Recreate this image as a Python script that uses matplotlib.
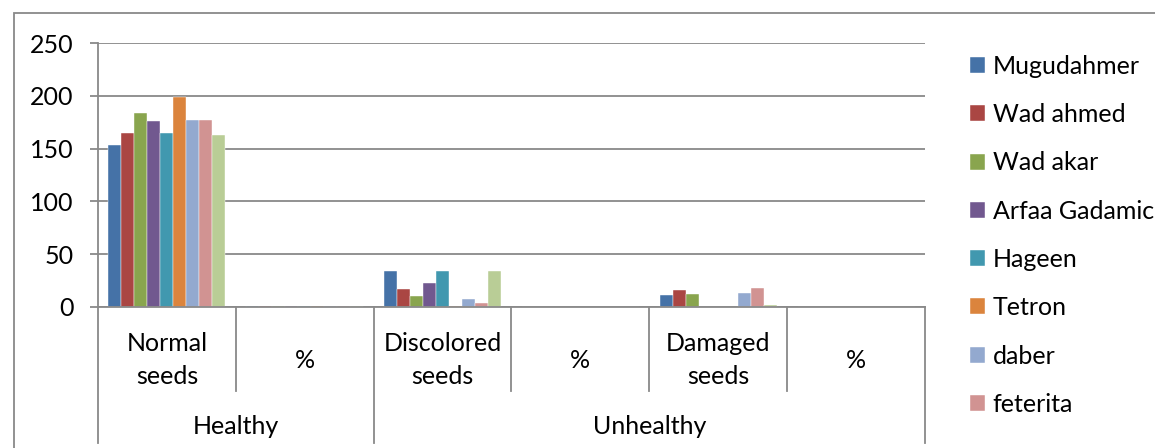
import matplotlib
matplotlib.use("Agg")
import matplotlib.pyplot as plt
from matplotlib.patches import Rectangle
from matplotlib.lines import Line2D
import numpy as np

plt.rcParams['font.family'] = ['Lato', 'DejaVu Sans']

# Categories along the x axis and their grouping
categories = ["Normal\nseeds", "%", "Discolored\nseeds", "%", "Damaged\nseeds", "%"]
groups = ["Healthy", "Unhealthy"]
group_spans = [(0, 2), (2, 6)]

varieties = ["Mugudahmer", "Wad ahmed", "Wad akar", "Arfaa Gadamic", "Hageen",
             "Tetron", "daber", "feterita", "Series 9"]

# Seed counts per variety for each category
mugudahmer    = [153, 0.77, 34, 0.17, 11, 0.06]
wad_ahmed     = [165, 0.83, 17, 0.09, 16, 0.08]
wad_akar      = [184, 0.92, 10, 0.05, 12, 0.06]
arfaa_gadamic = [176, 0.88, 23, 0.12, 0, 0]
hageen        = [165, 0.83, 34, 0.17, 0, 0]
tetron        = [199, 1.0, 1, 0.01, 0, 0]
daber         = [177, 0.89, 8, 0.04, 13, 0.07]
feterita      = [177, 0.89, 4, 0.02, 18, 0.09]
series9       = [163, 0.82, 34, 0.17, 1.5, 0.01]

series = [mugudahmer, wad_ahmed, wad_akar, arfaa_gadamic, hageen,
          tetron, daber, feterita, series9]
colors = ["#4572A7", "#AA4643", "#89A54E", "#71588F", "#4198AF",
          "#DB843D", "#93A9CF", "#D19392", "#B9CD96"]

W, H = 1155, 448
FS = 18
fig = plt.figure(figsize=(W / 100, H / 100), dpi=100)
fig.patch.set_facecolor("white")

grey = "#898989"
LW = 1.3

# outer chart frame
fig.patches.append(Rectangle((14 / W, -0.1), 1.2, 1 - 13 / H + 0.1,
                             transform=fig.transFigure, fill=False,
                             edgecolor=grey, lw=LW, zorder=0))

left, right = 98 / W, 925 / W
bottom, top = 1 - 307 / H, 1 - 43 / H
ax = fig.add_axes([left, bottom, right - left, top - bottom])

n = len(series)
x = np.arange(len(categories))
group_width = 0.85
bw = group_width / n
for i, (vals, col) in enumerate(zip(series, colors)):
    ax.bar(x - group_width / 2 + bw * (i + 0.5), vals, width=bw, color=col,
           edgecolor="white", linewidth=0.3, label=varieties[i], zorder=3)

ax.set_xlim(-0.5, len(categories) - 0.5)
ax.set_ylim(0, 250)
ax.set_yticks([0, 50, 100, 150, 200, 250])
ax.yaxis.grid(True, color=grey, lw=LW, zorder=0)
ax.set_axisbelow(True)
ax.tick_params(axis="y", length=5.8, width=LW, color=grey, pad=12,
               labelsize=FS, direction="out")
ax.set_xticks([])
for s in ["top", "right"]:
    ax.spines[s].set_visible(False)
for s in ["left", "bottom"]:
    ax.spines[s].set_color(grey)
    ax.spines[s].set_linewidth(LW)
    ax.spines[s].set_zorder(4)

# category label rows below the axis (in axes fraction)
ph = top - bottom
def fy(py):
    return (1 - py / H - bottom) / ph

row1_bottom = fy(391)
row2_bottom = fy(443)
trans = ax.get_xaxis_transform()
for k in range(len(categories) + 1):
    xb = k - 0.5
    long_line = any(xb == s - 0.5 or xb == e - 0.5 for s, e in group_spans)
    y_end = row2_bottom if long_line else row1_bottom
    ax.add_line(Line2D([xb, xb], [0, y_end], transform=trans, color=grey,
                       lw=LW, clip_on=False))

for k, lab in enumerate(categories):
    ax.text(k, fy(360), lab, transform=trans, ha="center", va="center",
            fontsize=FS, linespacing=1.5)

for g, (s, e) in zip(groups, group_spans):
    ax.text((s + e - 1) / 2, fy(426), g, transform=trans, ha="center",
            va="center", fontsize=FS)

handles, labels = ax.get_legend_handles_labels()
fig.legend(handles[:8], labels[:8], loc="upper left",
           bbox_to_anchor=(960 / W, 1 - 45 / H), frameon=False,
           fontsize=FS, handlelength=0.6, handleheight=0.6,
           handletextpad=0.3, labelspacing=1.01, borderaxespad=0)

fig.savefig("out.png", dpi=100, facecolor="white")
